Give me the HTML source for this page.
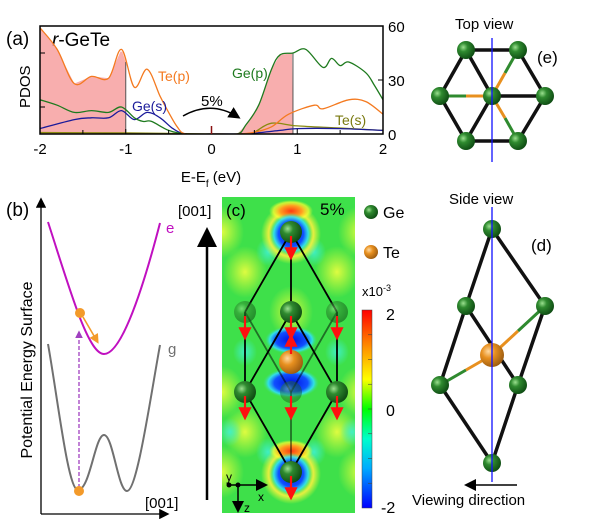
<!DOCTYPE html>
<html><head><meta charset="utf-8">
<style>
html,body{margin:0;padding:0;background:#fff;}
svg{display:block;font-family:"Liberation Sans","DejaVu Sans",sans-serif;}
</style></head>
<body>
<svg id="fig" width="600" height="530" viewBox="0 0 600 530" xmlns="http://www.w3.org/2000/svg">
<defs>
<radialGradient id="ge" cx="35%" cy="35%" r="70%">
<stop offset="0" stop-color="#9be08f"/><stop offset="0.35" stop-color="#2f8a2f"/><stop offset="1" stop-color="#0d4a12"/></radialGradient>
<radialGradient id="te" cx="35%" cy="35%" r="70%">
<stop offset="0" stop-color="#ffd9a0"/><stop offset="0.4" stop-color="#e8901f"/><stop offset="1" stop-color="#9a5a10"/></radialGradient>
<radialGradient id="blueblob"><stop offset="0" stop-color="#0010e0"/><stop offset="0.6" stop-color="#1050ff"/><stop offset="0.82" stop-color="#30e0ff" stop-opacity="0.85"/><stop offset="1" stop-color="#40e080" stop-opacity="0"/></radialGradient>
<radialGradient id="redblob"><stop offset="0" stop-color="#ff3a10"/><stop offset="0.5" stop-color="#ffa020"/><stop offset="0.8" stop-color="#ffff30" stop-opacity="0.7"/><stop offset="1" stop-color="#e0ff30" stop-opacity="0"/></radialGradient>
<radialGradient id="yel"><stop offset="0" stop-color="#f0ff40" stop-opacity="0.9"/><stop offset="1" stop-color="#e0ff30" stop-opacity="0"/></radialGradient>
<radialGradient id="ring"><stop offset="0.55" stop-color="#f0ff40" stop-opacity="0"/><stop offset="0.75" stop-color="#f8f040" stop-opacity="0.9"/><stop offset="1" stop-color="#e0ff30" stop-opacity="0"/></radialGradient>
<radialGradient id="cyan"><stop offset="0" stop-color="#40f0d0" stop-opacity="0.9"/><stop offset="1" stop-color="#40f0d0" stop-opacity="0"/></radialGradient>
<linearGradient id="cbar" x1="0" y1="0" x2="0" y2="1">
<stop offset="0" stop-color="#ff0000"/><stop offset="0.2" stop-color="#ff9900"/><stop offset="0.35" stop-color="#ffff00"/><stop offset="0.5" stop-color="#00ff00"/><stop offset="0.65" stop-color="#00ffcc"/><stop offset="0.8" stop-color="#00aaff"/><stop offset="1" stop-color="#0000ff"/></linearGradient>
<marker id="ah" markerWidth="8" markerHeight="8" refX="6" refY="4" orient="auto"><path d="M0,0 L8,4 L0,8 z" fill="#000"/></marker>
<marker id="ahr" markerWidth="6" markerHeight="6" refX="4" refY="3" orient="auto"><path d="M0,0 L6,3 L0,6 z" fill="#ff1010"/></marker>
<marker id="aho" markerWidth="6" markerHeight="6" refX="4" refY="3" orient="auto"><path d="M0,0 L6,3 L0,6 z" fill="#f39a2a"/></marker>
<marker id="ahm" markerWidth="6" markerHeight="6" refX="4" refY="3" orient="auto"><path d="M0,0 L6,3 L0,6 z" fill="#a040c0"/></marker>
<clipPath id="mapclip"><rect x="222" y="197" width="133" height="316"/></clipPath>
<clipPath id="aclip"><rect x="40" y="26" width="343" height="108"/></clipPath>
</defs>

<g id="panelA">
<text x="6" y="45" font-size="19">(a)</text>
<text x="52" y="46" font-size="19"><tspan font-style="italic">r</tspan>-GeTe</text>
<text transform="translate(30,108) rotate(-90)" font-size="15">PDOS</text>
<g id="curves" clip-path="url(#aclip)"></g>
<rect x="40" y="26" width="343" height="108" fill="none" stroke="#000" stroke-width="1.5"/>
<g id="ticks"></g>
<text x="211" y="182" font-size="15" text-anchor="middle">E-E<tspan font-size="10" dy="5">f</tspan><tspan dy="-5"> (eV)</tspan></text>
<text x="158" y="81" font-size="14" fill="#f47a20">Te(p)</text>
<text x="232" y="78" font-size="14" fill="#1e7a1e">Ge(p)</text>
<text x="132" y="111" font-size="14" fill="#1a1a9a">Ge(s)</text>
<text x="335" y="125" font-size="14" fill="#7a7a10">Te(s)</text>
<text x="201" y="106" font-size="15">5%</text>
<path d="M183,116 Q211,100 238,117" fill="none" stroke="#000" stroke-width="1.5" marker-end="url(#ah)"/>
</g>

<g>
<text x="6" y="216" font-size="19">(b)</text>
<text transform="translate(32,370) rotate(-90)" font-size="16" text-anchor="middle">Potential Energy Surface</text>
<line x1="41" y1="514" x2="41" y2="200" stroke="#000" stroke-width="1.3" marker-end="url(#ah)"/>
<line x1="41" y1="514" x2="167" y2="514" stroke="#000" stroke-width="1.3" marker-end="url(#ah)"/>
<path d="M48,222 C70,290 88,354 104,354 C120,354 140,300 160,223" fill="none" stroke="#c010c0" stroke-width="2"/>
<text x="166" y="233" font-size="15" fill="#c010c0">e</text>
<path d="M48,344 C58,400 68,490 78,490 C90,490 95,435 104,435 C113,435 118,491 127,491 C137,491 150,400 160,345" fill="none" stroke="#707070" stroke-width="2"/>
<text x="168" y="354" font-size="15" fill="#707070">g</text>
<line x1="79" y1="488" x2="79" y2="333" stroke="#a040c0" stroke-width="1.3" stroke-dasharray="4,2" marker-end="url(#ahm)"/>
<circle cx="79" cy="491" r="5" fill="#f39a2a"/>
<circle cx="80" cy="313" r="5" fill="#f39a2a"/>
<line x1="83" y1="317" x2="97" y2="341" stroke="#f39a2a" stroke-width="1.6" marker-end="url(#aho)"/>
<text x="145" y="508" font-size="15">[001]</text>
<line x1="207" y1="500" x2="207" y2="232" stroke="#000" stroke-width="2.5" marker-end="url(#ah)"/>
<text x="178" y="216" font-size="15">[001]</text>
</g>

<g>
<g clip-path="url(#mapclip)">
<rect x="222" y="197" width="133" height="316" fill="#3ee04a"/>
<g id="bands"></g>
<circle cx="291" cy="234" r="30" fill="url(#ring)"/>
<circle cx="291" cy="474" r="30" fill="url(#ring)"/>
<ellipse cx="291" cy="211" rx="22" ry="11" fill="url(#redblob)"/>
<ellipse cx="291" cy="451" rx="22" ry="11" fill="url(#redblob)"/>
<circle cx="291" cy="234" r="21" fill="url(#blueblob)"/>
<circle cx="291" cy="474" r="21" fill="url(#blueblob)"/>
<ellipse cx="291" cy="340" rx="26" ry="14" fill="url(#blueblob)"/>
<ellipse cx="291" cy="383" rx="28" ry="15" fill="url(#blueblob)"/>
</g>
<g id="lattice" stroke="#000" stroke-width="1.8" fill="none">
<line x1="291" y1="232" x2="245" y2="312"/><line x1="291" y1="232" x2="337" y2="312"/><line x1="291" y1="232" x2="291" y2="312"/>
<line x1="245" y1="312" x2="245" y2="392"/><line x1="337" y1="312" x2="337" y2="392"/>
<line x1="291" y1="312" x2="245" y2="392"/><line x1="291" y1="312" x2="337" y2="392"/>
<line x1="245" y1="312" x2="291" y2="392" stroke-opacity="0.5"/><line x1="337" y1="312" x2="291" y2="392" stroke-opacity="0.5"/>
<line x1="245" y1="392" x2="291" y2="472"/><line x1="337" y1="392" x2="291" y2="472"/><line x1="291" y1="392" x2="291" y2="472" stroke-opacity="0.5"/>
</g>
<g id="atomsC"></g>
<text x="226" y="216" font-size="17">(c)</text>
<text x="320" y="215" font-size="17">5%</text>
<g stroke="#000" stroke-width="1.5">
<line x1="229" y1="485" x2="265" y2="485" marker-end="url(#ah)"/>
<line x1="238" y1="485" x2="238" y2="510" marker-end="url(#ah)"/>
</g>
<circle cx="229" cy="485" r="2.5"/><circle cx="238" cy="485" r="2.5"/>
<text x="226" y="481" font-size="12">y</text><text x="258" y="501" font-size="12">x</text><text x="244" y="512" font-size="12">z</text>
<circle cx="371" cy="212" r="7" fill="url(#ge)"/><text x="383" y="218" font-size="16">Ge</text>
<circle cx="371" cy="252" r="7" fill="url(#te)"/><text x="383" y="258" font-size="16">Te</text>
<text x="362" y="296" font-size="13">x10<tspan font-size="9" dy="-5">-3</tspan></text>
<rect x="362" y="310" width="10" height="198" fill="url(#cbar)" stroke="#444" stroke-width="0.5"/>
<g id="cbticks" stroke="#444" stroke-width="0.6"></g>
<text x="386" y="320" font-size="16">2</text><text x="386" y="416" font-size="16">0</text><text x="381" y="513" font-size="16">-2</text>
</g>

<g>
<text x="455" y="29" font-size="15">Top   view</text>
<text x="537" y="63" font-size="17">(e)</text>
<g stroke="#111" stroke-width="3.5">
<line x1="466" y1="50" x2="518" y2="50"/><line x1="466" y1="141" x2="518" y2="141"/>
<line x1="466" y1="50" x2="440" y2="96"/><line x1="440" y1="96" x2="466" y2="141"/>
<line x1="518" y1="50" x2="545" y2="96"/><line x1="545" y1="96" x2="518" y2="141"/>
<line x1="466" y1="50" x2="492" y2="96"/><line x1="492" y1="96" x2="466" y2="141"/><line x1="492" y1="96" x2="545" y2="96"/>
</g>
<g stroke-width="3">
<line x1="440" y1="96" x2="466" y2="96" stroke="#2f8a2f"/><line x1="466" y1="96" x2="492" y2="96" stroke="#e8901f"/>
<line x1="518" y1="50" x2="505" y2="73" stroke="#2f8a2f"/><line x1="505" y1="73" x2="492" y2="96" stroke="#e8901f"/>
<line x1="518" y1="141" x2="505" y2="118" stroke="#2f8a2f"/><line x1="505" y1="118" x2="492" y2="96" stroke="#e8901f"/>
</g>
<g id="atomsE"></g>
<line x1="492" y1="38" x2="492" y2="162" stroke="#1010ff" stroke-width="1.3"/>
</g>

<g>
<text x="449" y="204" font-size="15">Side   view</text>
<text x="531" y="251" font-size="17">(d)</text>
<g stroke="#111" stroke-width="3.5">
<line x1="492" y1="229" x2="466" y2="306"/><line x1="492" y1="229" x2="545" y2="306"/>
<line x1="466" y1="306" x2="440" y2="385"/><line x1="545" y1="306" x2="518" y2="385"/>
<line x1="440" y1="385" x2="492" y2="463"/><line x1="518" y1="385" x2="492" y2="463"/>
<line x1="466" y1="306" x2="518" y2="385"/>
</g>
<g stroke-width="3">
<line x1="545" y1="306" x2="518" y2="331" stroke="#2f8a2f"/><line x1="518" y1="331" x2="492" y2="355" stroke="#e8901f"/>
<line x1="440" y1="385" x2="466" y2="370" stroke="#2f8a2f"/><line x1="466" y1="370" x2="492" y2="355" stroke="#e8901f"/>
</g>
<g id="atomsD"></g>
<line x1="492" y1="207" x2="492" y2="482" stroke="#1010ff" stroke-width="1.3"/>
<line x1="517" y1="485" x2="467" y2="485" stroke="#000" stroke-width="1.5" marker-end="url(#ah)"/>
<text x="412" y="505" font-size="15">Viewing  direction</text>
</g>
</svg>
<script>
const tepE = [-2,-1.8,-1.6,-1.4,-1.2,-1.05,-0.9,-0.75,-0.6,-0.5,-0.4,-0.3,0,0.3,0.5,0.7,0.9,1.2,1.3,1.6,1.8,2];
const tepV = [59,47,28,32,31,47,26,36,21,12,4,0,0,0,1,4,11,16,14,19,18,11];
const gepE = [-2,-1.8,-1.6,-1.4,-1.2,-1.05,-0.9,-0.8,-0.7,-0.5,-0.3,0,0.3,0.4,0.55,0.7,0.8,0.95,1.1,1.3,1.4,1.5,1.6,1.8,1.9,2];
const gepV = [19,16,12,13,12,15,9,7,7,2,0,0,0,5,16,36,44,45,47,37,42,38,40,34,27,19];
const gesE = [-2,-1.6,-1.4,-1.2,-1.05,-0.9,-0.75,-0.6,-0.45,-0.3,0,0.3,0.5,0.8,1.0,1.5,2];
const gesV = [3,8,9,9,13,8,12,9,3,0,0,0,0.5,2,3,3,2];
const tesE = [-2,-1,-0.5,0,0.4,0.5,0.7,1.0,1.5,2];
const tesV = [0.8,0.6,0.3,0,0,1,6,4.5,3.3,2];
const xTicks = [-2,-1,0,1,2];
const yTicksR = [0,30,60];

const X0=40,X1=383,Y0=134,Y1=26;
const sx = e => X0 + (e+2)/4*(X1-X0);
const sy = v => Y0 - v/60*(Y0-Y1);
const NS="http://www.w3.org/2000/svg";
function mk(tag, attrs, parent){const el=document.createElementNS(NS,tag);for(const k in attrs)el.setAttribute(k,attrs[k]);parent.appendChild(el);return el;}
function interp(E,V,e){for(let i=0;i<E.length-1;i++){if(e>=E[i]&&e<=E[i+1]){const t=(e-E[i])/(E[i+1]-E[i]);return V[i]+t*(V[i+1]-V[i]);}}return V[V.length-1];}
function smoothPath(E,V){const p=E.map((e,i)=>[sx(e),sy(V[i])]);let d="M"+p[0][0]+","+p[0][1];
 for(let i=0;i<p.length-1;i++){const p0=p[i-1]||p[i],p1=p[i],p2=p[i+1],p3=p[i+2]||p2;
 const c1x=p1[0]+(p2[0]-p0[0])/6,c1y=p1[1]+(p2[1]-p0[1])/6,c2x=p2[0]-(p3[0]-p1[0])/6,c2y=p2[1]-(p3[1]-p1[1])/6;
 d+=` C${c1x},${c1y} ${c2x},${c2y} ${p2[0]},${p2[1]}`;}return d;}
const curves=document.getElementById('curves');
function shade(E,V,a,b){let d=`M${sx(a)},${Y0}`;for(let e=a;e<=b+1e-9;e+=0.02)d+=` L${sx(e)},${sy(interp(E,V,e))}`;d+=` L${sx(b)},${Y0} Z`;return d;}
const s1=mk('path',{d:shade(tepE,tepV,-2,-1),fill:'#f7a0a0','fill-opacity':'0.85'},curves);


const s2=mk('path',{d:shade(gepE,gepV,0.3,0.95),fill:'#f7a0a0','fill-opacity':'0.85'},curves);


[[-1,interp(tepE,tepV,-1)],[0.95,interp(gepE,gepV,0.95)]].forEach(([e,v])=>{const l=mk('line',{x1:sx(e),x2:sx(e),y1:Y0,y2:sy(v),stroke:'#555','stroke-width':1},curves);

});
const series=[[tesE,tesV,'#8a8a10','te-s-curve'],[gesE,gesV,'#1a1a9a','ge-s-curve'],[gepE,gepV,'#1e7a1e','ge-p-curve'],[tepE,tepV,'#f47a20','te-p-curve']];
series.forEach(([E,V,c,n])=>{const p=mk('path',{d:smoothPath(E,V),fill:'none',stroke:c,'stroke-width':1.3},curves);

});
const ticks=document.getElementById('ticks');
xTicks.forEach(t=>{mk('line',{x1:sx(t),x2:sx(t),y1:Y0,y2:Y0-5,stroke:'#000'},ticks);
const tx=mk('text',{x:sx(t),y:154,'font-size':15,'text-anchor':'middle'},ticks);tx.textContent=t;

});
[-1.5,-0.5,0.5,1.5].forEach(t=>mk('line',{x1:sx(t),x2:sx(t),y1:Y0,y2:Y0-4,stroke:'#000'},ticks));
mk('line',{x1:sx(0),x2:sx(0),y1:Y0,y2:Y0-8,stroke:'#8a1010','stroke-width':1.5},ticks);
yTicksR.forEach(t=>{mk('line',{x1:X1,x2:X1-5,y1:sy(t),y2:sy(t),stroke:'#000'},ticks);
const tx=mk('text',{x:388,y:sy(t)+6,'font-size':15},ticks);tx.textContent=t;

});
[15,45].forEach(t=>mk('line',{x1:X0,x2:X0+5,y1:sy(t),y2:sy(t),stroke:'#000'},ticks));
const bands=document.getElementById('bands');
[[245,272],[337,272],[245,432],[337,432],[222,232],[360,232],[222,392],[360,392],[291,312],[222,472],[360,472]].forEach(([x,y])=>mk('ellipse',{cx:x,cy:y,rx:22,ry:26,fill:'url(#yel)'},bands));
[[268,252],[314,252],[268,452],[314,452],[245,352],[337,352],[230,432],[352,432]].forEach(([x,y])=>mk('ellipse',{cx:x,cy:y,rx:12,ry:14,fill:'url(#cyan)'},bands));
const aC=document.getElementById('atomsC');
[[291,232,1],[245,312,0.55],[291,312,1],[337,312,0.55],[245,392,1],[291,392,0.45],[337,392,1],[291,472,1]].forEach(([x,y,o])=>mk('circle',{cx:x,cy:y,r:11,fill:'url(#ge)','fill-opacity':o},aC));
mk('circle',{cx:291,cy:362,r:12,fill:'url(#te)'},aC);
[[291,236,256],[245,316,336],[291,316,336],[337,316,336],[245,396,416],[291,396,416],[337,396,416],[291,476,496]].forEach(([x,a,b])=>mk('line',{x1:x,x2:x,y1:a,y2:b,stroke:'#ff1010','stroke-width':2.2,'marker-end':'url(#ahr)'},aC));
mk('line',{x1:291,x2:291,y1:354,y2:338,stroke:'#ff1010','stroke-width':2.2,'marker-end':'url(#ahr)'},aC);
const cbt=document.getElementById('cbticks');
for(let i=1;i<8;i++){const y=310+i*198/8;mk('line',{x1:368,x2:372,y1:y,y2:y},cbt);}
const aE=document.getElementById('atomsE');
[[466,50],[518,50],[440,96],[492,96],[545,96],[466,141],[518,141]].forEach(([x,y])=>mk('circle',{cx:x,cy:y,r:9,fill:'url(#ge)'},aE));
const aD=document.getElementById('atomsD');
mk('circle',{cx:492,cy:355,r:12,fill:'url(#te)'},aD);
[[492,229],[466,306],[545,306],[440,385],[518,385],[492,463]].forEach(([x,y])=>mk('circle',{cx:x,cy:y,r:9,fill:'url(#ge)'},aD));
</script>
</body></html>
